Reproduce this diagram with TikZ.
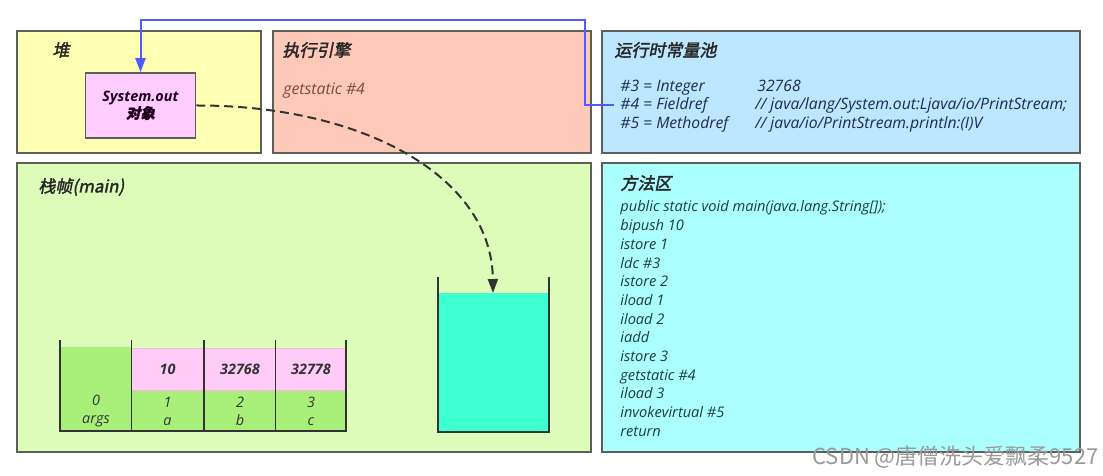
\documentclass[tikz,border=0pt]{standalone}
\usepackage{fontspec}
\setmainfont{Open Sans}
\newfontfamily\cjk{Noto Sans CJK SC}
\newfontfamily\cjktitle{Noto Sans CJK SC}[FakeSlant=0.2,FakeBold=2]
\usetikzlibrary{arrows.meta,positioning}

\definecolor{heapyellow}{HTML}{FFFFB3}
\definecolor{enginered}{HTML}{FFC9BA}
\definecolor{poolblue}{HTML}{BDE6FF}
\definecolor{framegreen}{HTML}{DDFBB9}
\definecolor{methodcyan}{HTML}{ABFFFF}
\definecolor{objpink}{HTML}{FFCCFF}
\definecolor{slotpink}{HTML}{FFCCF7}
\definecolor{slotgreen}{HTML}{A9F07B}
\definecolor{stackcyan}{HTML}{3DFFD0}
\definecolor{areaborder}{HTML}{5A5F5A}
\definecolor{refblue}{HTML}{4F5BFF}
\definecolor{enginetext}{HTML}{7A4A42}
\definecolor{pooltext}{HTML}{1E2D4A}
\definecolor{methodtext}{HTML}{1F3D40}

\tikzset{
  area/.style={draw=areaborder, line width=0.75pt},
  title/.style={anchor=west, inner sep=0, font=\cjktitle\fontsize{8.5}{10}\selectfont, text=black!85},
  code/.style={anchor=base west, inner sep=0, font=\itshape\fontsize{7.3}{9}\selectfont},
  poolcode/.style={code, text=pooltext, font=\itshape\fontsize{7.85}{9}\selectfont},
  slottext/.style={inner sep=0, align=center, font=\bfseries\itshape\fontsize{7.2}{9}\selectfont, text=black!80},
  wall/.style={draw=black!80, line width=0.9pt},
  ptr/.style={draw=refblue, line width=1pt, -{Triangle[length=7pt,width=5pt]}},
  flow/.style={draw=black!80, line width=1pt, dash pattern=on 4.5pt off 2.5pt, -{Triangle[length=7pt,width=5pt]}}
}

\begin{document}
\begin{tikzpicture}[x=0.5pt,y=-0.5pt]
\useasboundingbox (0,0) rectangle (1103,476);

\filldraw[area, fill=heapyellow] (17,31) rectangle (261,153);
\filldraw[area, fill=enginered] (273,31) rectangle (591,153);
\filldraw[area, fill=poolblue] (602,31) rectangle (1080,153);
\filldraw[area, fill=framegreen] (17,163) rectangle (591,452);
\filldraw[area, fill=methodcyan] (602,163) rectangle (1080,452);

\node[title] (heapt) at (52,50) {堆};
\node[title] (enginet) at (282,50) {执行引擎};
\node[title] (poolt) at (614,50) {运行时常量池};
\node[title] (framet) at (38,187) {栈帧(main)};
\node[title] (methodt) at (620,183) {方法区};

\node[draw=areaborder, line width=0.75pt, fill=objpink, minimum width=55pt, minimum height=32.5pt,
      align=center, inner sep=0, text=black!75!violet, font=\bfseries\itshape\fontsize{7.2}{8.5}\selectfont]
      (sysout) at (140.5,105.5) {System.out\\{\cjktitle 对象}};

\node[code, text=enginetext, font=\itshape\fontsize{7.9}{9}\selectfont] (getst) at (283,95) {getstatic \#4};

\node[poolcode] (c3) at (620,92) {\#3 = Integer};
\node[poolcode] (c3v) at (757,92) {32768};
\node[poolcode] (c4) at (620,110) {\#4 = Fieldref};
\node[poolcode] (c4v) at (755,110) {// java/lang/System.out:Ljava/io/PrintStream;};
\node[poolcode] (c5) at (620,129) {\#5 = Methodref};
\node[poolcode] (c5v) at (755,129) {// java/io/PrintStream.println:(I)V};

\foreach \txt [count=\i from 0] in {{public static void main(java.lang.String[]);},{bipush 10},{istore 1},{ldc \#3},
    {istore 2},{iload 1},{iload 2},{iadd},{istore 3},{getstatic \#4},{iload 3},{invokevirtual \#5},{return}}
  \node[code, text=methodtext] (m\i) at (620,{212+18.67*\i}) {\txt};

\fill[slotgreen] (60,347) rectangle (131.5,431);
\filldraw[fill=slotpink, draw=magenta!30] (131.5,348) rectangle (346,390);
\fill[slotgreen] (131.5,390.5) rectangle (346,431);
\draw[wall] (60,340) -- (60,431) -- (346,431) -- (346,340);
\foreach \xx in {131.5,204,275.5}
  \draw[wall] (\xx,340) -- (\xx,431);

\node[slottext] (v1) at (167.5,369) {10};
\node[slottext] (v2) at (240,369) {32768};
\node[slottext] (v3) at (311,369) {32778};
\node[slottext, font=\itshape\fontsize{7.2}{9}\selectfont] (s0) at (96,411.5) {0\\args};
\node[slottext, font=\itshape\fontsize{7.2}{9}\selectfont] (s1) at (167.5,411.5) {1\\a};
\node[slottext, font=\itshape\fontsize{7.2}{9}\selectfont] (s2) at (240,411.5) {2\\b};
\node[slottext, font=\itshape\fontsize{7.2}{9}\selectfont] (s3) at (311,411.5) {3\\c};

\fill[stackcyan] (438,293) rectangle (549,432);
\draw[wall] (438,277) -- (438,432) -- (549,432) -- (549,277);
\coordinate (stacktop) at (493,293);

\coordinate (fieldref) at (614,105);
\coordinate (bend) at (585,20);
\draw[ptr] (fieldref) -| (bend) -| (sysout.north);

\draw[flow] (sysout.east) .. controls (360,105) and (492,175) .. (stacktop);

\node[anchor=east, inner sep=0, text=black!40, font=\cjk\fontsize{11}{12}\selectfont] (mark) at (1099,457) {CSDN @唐僧洗头爱飘柔9527};
\end{tikzpicture}
\end{document}
